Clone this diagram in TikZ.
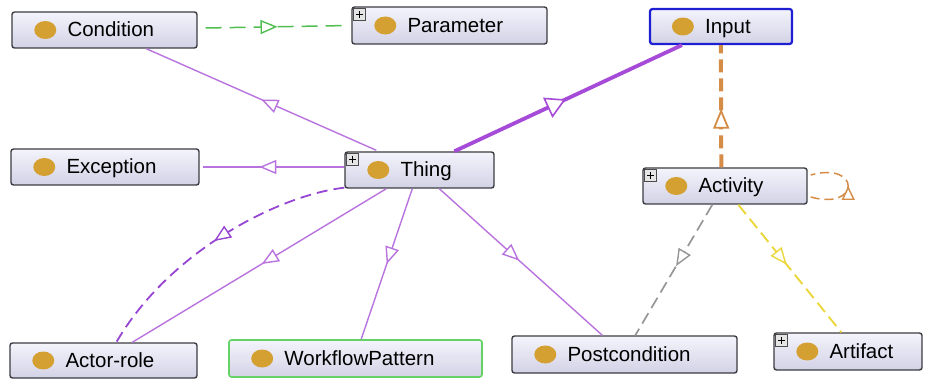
\documentclass[tikz,border=0pt]{standalone}
\usepackage{fontspec}
\setmainfont{Liberation Sans}
\usetikzlibrary{calc,arrows.meta,decorations.markings}
\definecolor{pthin}{RGB}{185,115,222}
\definecolor{pdash}{RGB}{150,70,210}
\definecolor{pthick}{RGB}{165,75,215}
\definecolor{gline}{RGB}{80,190,80}
\definecolor{oline}{RGB}{212,140,70}
\definecolor{grline}{RGB}{150,150,150}
\definecolor{yline}{RGB}{235,215,60}
\definecolor{bborder}{RGB}{30,30,210}
\definecolor{gborder}{RGB}{100,210,100}
\definecolor{dotcol}{RGB}{212,160,50}
\definecolor{boxtop}{RGB}{244,244,252}
\definecolor{boxbot}{RGB}{210,210,230}
\definecolor{boxline}{RGB}{60,60,66}
\newcommand{\classnode}[6][]{%
  \node[clsbox, minimum width=#4, minimum height=#5, #1] (#2) at (#3) {};
  \fill[dotcol] ($(#2.west)+(34,0)$) ellipse [x radius=11, y radius=9];
  \node[lbl, anchor=base west] (#2-l) at ($(#2.west)+(56,7)$) {#6};}
\newcommand{\plusicon}[1]{%
  \draw[line width=0.7pt, draw=black!70, fill=black!10] ($(#1.north west)+(2,2)$) rectangle ($(#1.north west)+(14,14)$);
  \draw[line width=1.4pt] ($(#1.north west)+(4.5,8)$) -- ($(#1.north west)+(11.5,8)$);
  \draw[line width=1.4pt] ($(#1.north west)+(8,4.5)$) -- ($(#1.north west)+(8,11.5)$);}
\tikzset{
  clsbox/.style={draw=boxline, line width=1.4pt, rounded corners=2.5pt, top color=boxtop, bottom color=boxbot, inner sep=0pt},
  lbl/.style={inner sep=0pt, font=\fontsize{20.5}{24}\selectfont, text=black},
  midtriX/.style n args={2}{postaction=decorate, decoration={markings, mark=at position #1 with {\arrow{Triangle[fill=white, #2]}}}},
  midtri/.style={postaction=decorate, decoration={markings, mark=at position #1 with {\arrow{Triangle[fill=white, length=17pt, width=14pt, line width=1.4pt]}}}},
  thinp/.style={draw=pthin, line width=1.4pt},
}
\begin{document}
\begin{tikzpicture}[x=1pt,y=-1pt]
\useasboundingbox (0,0) rectangle (926,379);
% nodes
\classnode{Condition}{104.5,30}{185pt}{36pt}{Condition}
\classnode{Parameter}{449.5,25.5}{195pt}{37pt}{Parameter}
\classnode[draw=bborder, line width=2.2pt]{Input}{721,26.5}{142pt}{35pt}{Input}
\classnode{Exception}{105,167}{188pt}{36pt}{Exception}
\classnode{Thing}{419.5,170}{149pt}{36pt}{Thing}
\classnode{Activity}{725,186}{164pt}{36pt}{Activity}
\classnode{Actorrole}{103.5,360.5}{187pt}{35pt}{Actor-role}
\classnode[draw=gborder, line width=1.6pt]{Workflow}{355.5,358.5}{253pt}{37pt}{WorkflowPattern}
\classnode{Postcondition}{624.5,354.5}{225pt}{37pt}{Postcondition}
\classnode{Artifact}{848,351.5}{148pt}{37pt}{Artifact}
\plusicon{Parameter}
\plusicon{Thing}
\plusicon{Activity}
\plusicon{Artifact}
% connectors
\draw[draw=gline, line width=1.5pt, dash pattern=on 16pt off 8pt, midtri=0.5]
  ($(Condition.east)+(8,-2)$) -- ($(Parameter.west)+(-2,0)$);
\draw[thinp, midtri=0.5]
  ($(Thing.north west)+(32,-1)$) -- ($(Condition.south west)+(135,0)$);
\draw[thinp, midtri=0.6]
  ($(Thing.west)+(0,-3)$) -- ($(Exception.east)+(3,0)$);
\draw[draw=pthick, line width=3.8pt, midtriX={0.49}{length=20pt, width=22pt, line width=1.6pt}]
  ($(Thing.north west)+(110,0)$) -- ($(Input.south west)+(33,0)$);
\draw[draw=oline, line width=4pt, dash pattern=on 13pt off 6pt,
  midtriX={0.48}{length=20pt, width=16pt, line width=1.8pt}]
  ($(Activity.north west)+(79,0)$) -- ($(Input.south west)+(72,0)$);
\coordinate (loopA) at ($(Activity.east)+(3,11)$);
\coordinate (loopB) at ($(Activity.east)+(3,-11)$);
\draw[draw=oline, line width=1.5pt, dash pattern=on 9pt off 5pt,
  midtriX={0.5}{length=14pt, width=13pt, line width=1.4pt}]
  (loopA) .. controls ($(loopA)+(50,14)$) and ($(loopB)+(50,-14)$) .. (loopB);
\draw[draw=pdash, line width=1.8pt, dash pattern=on 11pt off 6pt, midtri=0.5]
  ($(Thing.south west)+(0,-1)$) .. controls (280,195) and (170,250) .. ($(Actorrole.north west)+(107,0)$);
\draw[thinp, midtri=0.49]
  ($(Thing.south west)+(42,0)$) -- ($(Actorrole.north west)+(123,0)$);
\draw[thinp, midtri=0.5]
  ($(Thing.south west)+(68,0)$) -- ($(Workflow.north west)+(133,0)$);
\draw[thinp, midtri=0.49]
  ($(Thing.south west)+(95,0)$) -- ($(Postcondition.north west)+(91,0)$);
\draw[draw=grline, line width=1.7pt, dash pattern=on 12pt off 6pt, midtri=0.47]
  ($(Activity.south west)+(70,0)$) -- ($(Postcondition.north west)+(124,0)$);
\draw[draw=yline, line width=1.9pt, dash pattern=on 12pt off 6pt, midtri=0.47]
  ($(Activity.south west)+(96,0)$) -- ($(Artifact.north west)+(68,0)$);
\end{tikzpicture}
\end{document}
